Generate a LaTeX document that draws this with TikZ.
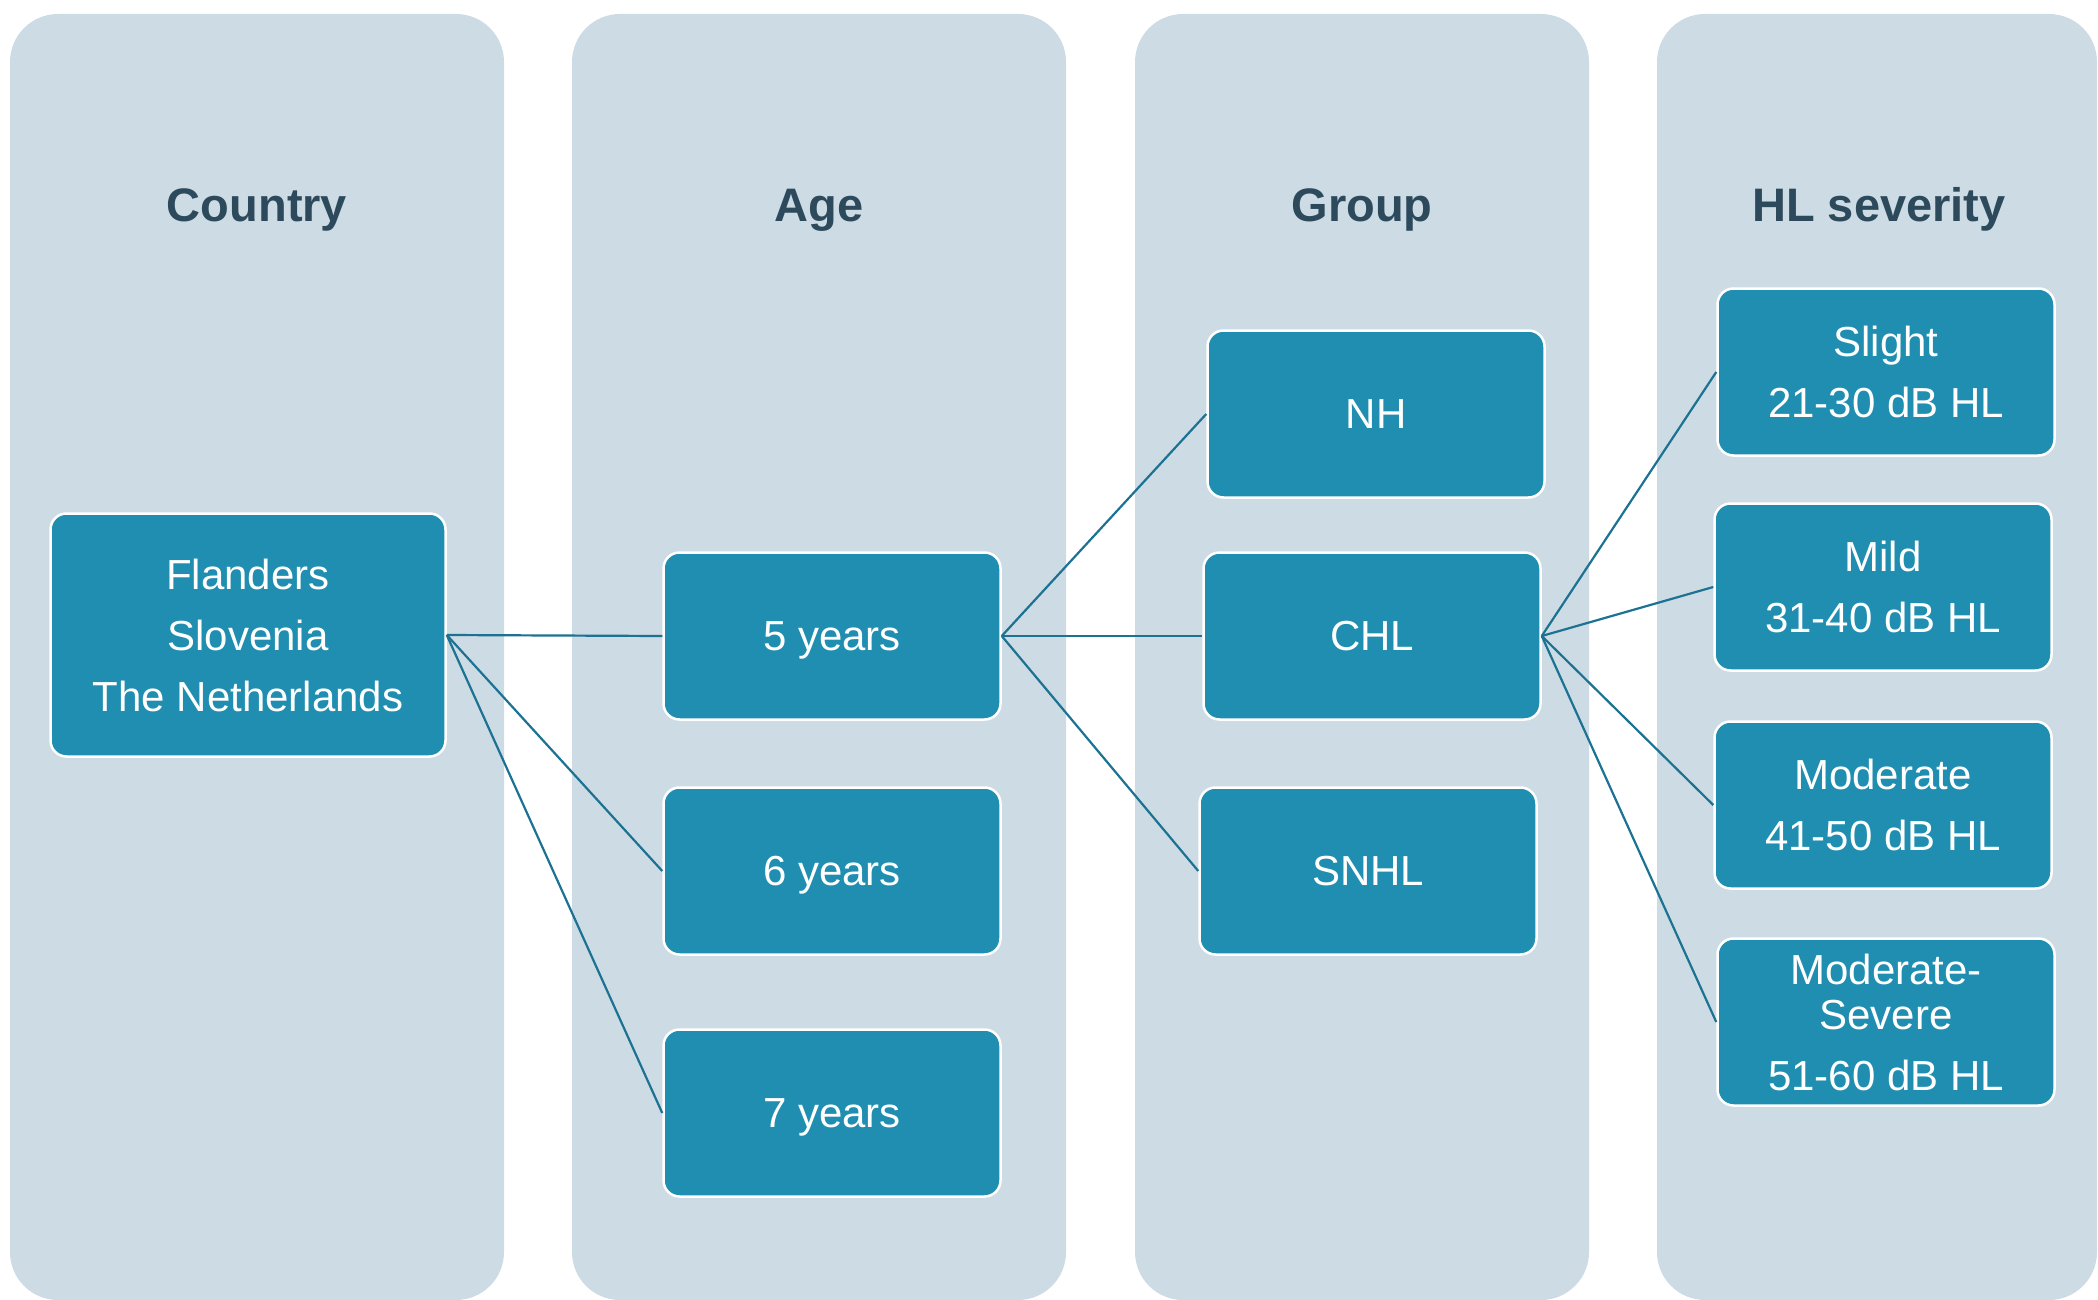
\documentclass[tikz,border=0pt]{standalone}
\usepackage{fontspec}
\setmainfont{Liberation Sans}
\definecolor{colbg}{HTML}{CDDBE4}
\definecolor{boxblue}{HTML}{1F8EB0}
\definecolor{linkc}{HTML}{1B7292}
\definecolor{headc}{HTML}{2D4A5C}
\begin{document}
\begin{tikzpicture}[x=1pt,y=-1pt,
  colpanel/.style={fill=colbg,draw=none,rounded corners=48pt},
  header/.style={anchor=base,text=headc,font=\fontsize{47}{56}\selectfont\bfseries},
  itembox/.style={draw=white,line width=2.5pt,fill=boxblue,rounded corners=16pt,
    text=white,align=center,font=\fontsize{42}{61}\selectfont,text depth=0pt,
    minimum width=337pt,minimum height=167pt,inner sep=0pt},
  link/.style={draw=linkc,line width=2.2pt}]
\useasboundingbox (0,0) rectangle (2098,1300);
% columns
\fill[colpanel] (10,14) rectangle (504,1300);
\fill[colpanel] (572,14) rectangle (1066,1300);
\fill[colpanel] (1135,14) rectangle (1589,1300);
\fill[colpanel] (1657,14) rectangle (2097,1300);
% headers
\node[header] (hc) at (257,222) {Country};
\node[header] (ha) at (819,222) {Age};
\node[header] (hg) at (1362,222) {Group};
\node[header] (hs) at (1879,222) {HL severity};
% boxes
\node[itembox,minimum width=395pt,minimum height=243pt] (fl) at (248,635) {Flanders\\Slovenia\\The Netherlands};
\node[itembox] (y5) at (832,636) {5 years};
\node[itembox] (y6) at (832,871) {6 years};
\node[itembox] (y7) at (832,1113) {7 years};
\node[itembox] (nh) at (1376,414) {NH};
\node[itembox] (chl) at (1372,636) {CHL};
\node[itembox] (snhl) at (1368,871) {SNHL};
\node[itembox] (sl) at (1886,372) {Slight\\21-30 dB HL};
\node[itembox] (mi) at (1883,587) {Mild\\31-40 dB HL};
\node[itembox] (mo) at (1883,805) {Moderate\\41-50 dB HL};
\node[itembox] (ms) at (1886,1022) {Moderate-\\[-16pt]Severe\\51-60 dB HL};
% connectors
\draw[link] (fl.east) -- (y5.west);
\draw[link] (fl.east) -- (y6.west);
\draw[link] (fl.east) -- (y7.west);
\draw[link] (y5.east) -- (nh.west);
\draw[link] (y5.east) -- (chl.west);
\draw[link] (y5.east) -- (snhl.west);
\draw[link] (chl.east) -- (sl.west);
\draw[link] (chl.east) -- (mi.west);
\draw[link] (chl.east) -- (mo.west);
\draw[link] (chl.east) -- (ms.west);
\end{tikzpicture}
\end{document}
